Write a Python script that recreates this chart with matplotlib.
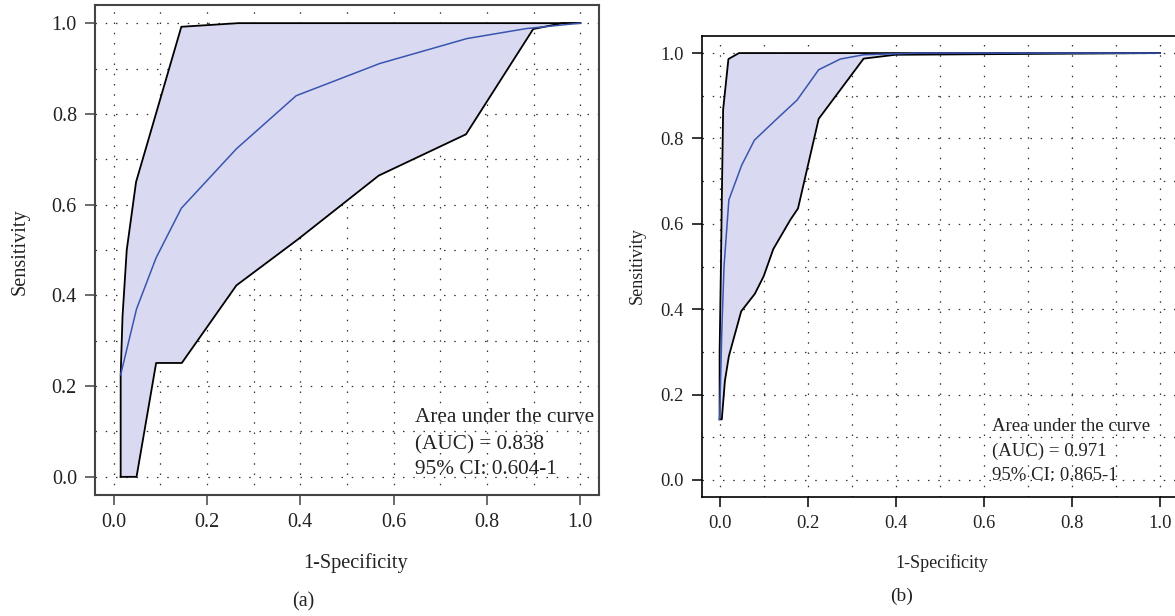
import matplotlib
matplotlib.use("Agg")
import matplotlib.pyplot as plt
import numpy as np

plt.rcParams['font.family'] = ['Liberation Serif', 'DejaVu Serif']

# ---- Panel (a) data ----
a_upper_x = [0.015, 0.015, 0.019, 0.028, 0.048, 0.145, 0.267, 1.0]
a_upper_y = [0.0, 0.225, 0.354, 0.50, 0.650, 0.992, 1.0, 1.0]
a_lower_x = [0.015, 0.049, 0.091, 0.146, 0.263, 0.393, 0.568, 0.755, 0.899, 0.962, 1.0]
a_lower_y = [0.0, 0.0, 0.251, 0.251, 0.422, 0.522, 0.664, 0.755, 0.987, 1.0, 1.0]
a_roc_x = [0.015, 0.049, 0.091, 0.145, 0.263, 0.391, 0.570, 0.757, 0.884, 1.0]
a_roc_y = [0.225, 0.370, 0.483, 0.592, 0.723, 0.840, 0.911, 0.966, 0.988, 1.0]
a_text = ["Area under the curve", "(AUC) = 0.838", "95% CI: 0.604-1"]

# ---- Panel (b) data ----
b_upper_x = [0.0, 0.0, 0.003, 0.005, 0.008, 0.020, 0.044, 1.0]
b_upper_y = [0.142, 0.30, 0.50, 0.657, 0.868, 0.986, 1.0, 1.0]
b_lower_x = [0.0, 0.005, 0.012, 0.021, 0.049, 0.080, 0.100, 0.122, 0.161, 0.178, 0.225, 0.327, 0.399, 1.0]
b_lower_y = [0.142, 0.142, 0.232, 0.290, 0.395, 0.436, 0.477, 0.541, 0.610, 0.636, 0.846, 0.987, 0.996, 1.0]
b_roc_x = [0.0, 0.005, 0.010, 0.021, 0.050, 0.079, 0.127, 0.176, 0.225, 0.274, 0.327, 0.45, 1.0]
b_roc_y = [0.142, 0.35, 0.50, 0.656, 0.737, 0.796, 0.843, 0.890, 0.961, 0.986, 0.996, 1.0, 1.0]
b_text = ["Area under the curve", "(AUC) = 0.971", "95% CI: 0.865-1"]

ticks = [0.0, 0.2, 0.4, 0.6, 0.8, 1.0]
tick_labels = ["0.0", "0.2", "0.4", "0.6", "0.8", "1.0"]
grid_vals = np.round(np.arange(0, 1.01, 0.1), 2)

FILL = '#d9daf1'
BLUE = '#3a55b0'
TXT = '#222222'

W, H = 1175, 616
fig = plt.figure(figsize=(W / 100, H / 100), dpi=100)


def px_axes(l, r, t, b):
    return fig.add_axes([l / W, (H - b) / H, (r - l) / W, (b - t) / H])


def draw_panel(ax, ux, uy, lx, ly, rx, ry, texts, txy, tick_fs, txt_fs, spine_col, spine_lw):
    ax.set_xlim(-0.04, 1.04)
    ax.set_ylim(-0.04, 1.04)
    for g in grid_vals:
        ax.axhline(g, color='#333333', lw=0.9, ls=(0, (1.2, 7)), zorder=0.5)
        ax.axvline(g, color='#333333', lw=0.9, ls=(0, (1.2, 7)), zorder=0.5)
    px = list(ux) + list(lx)[::-1]
    py = list(uy) + list(ly)[::-1]
    ax.fill(px, py, color=FILL, lw=0, zorder=1)
    ax.plot(ux, uy, color='black', lw=1.3, zorder=3)
    ax.plot(lx, ly, color='black', lw=1.3, zorder=3)
    ax.plot(rx, ry, color=BLUE, lw=1.1, zorder=4)
    ax.set_xticks(ticks)
    ax.set_xticklabels(tick_labels)
    ax.set_yticks(ticks)
    ax.set_yticklabels(tick_labels)
    ax.tick_params(axis='both', length=7, width=1.1, color=spine_col,
                   labelsize=tick_fs, labelcolor=TXT, pad=6)
    for s in ax.spines.values():
        s.set_color(spine_col)
        s.set_linewidth(spine_lw)
    x0, ys = txy
    for t, yy in zip(texts, ys):
        ax.text(x0, yy, t, fontsize=txt_fs, color=TXT, ha='left', va='baseline', zorder=5)


ax1 = px_axes(95, 599, 5, 495)
draw_panel(ax1, a_upper_x, a_upper_y, a_lower_x, a_lower_y, a_roc_x, a_roc_y,
           a_text, (0.645, [0.120, 0.061, 0.006]), 14.5, 15.3, '#444444', 1.5)

ax2 = px_axes(702, 1177.6, 36, 497)
draw_panel(ax2, b_upper_x, b_upper_y, b_lower_x, b_lower_y, b_roc_x, b_roc_y,
           b_text, (0.618, [0.115, 0.056, -0.001]), 13.3, 13.5, 'black', 1.2)

# Axis labels and panel tags placed in figure pixels
def ftext(x, y, s, **kw):
    fig.text(x / W, (H - y) / H, s, color=TXT, ha='center', va='center', **kw)

ftext(356, 563, "1-Specificity", fontsize=14.6)
ftext(20, 252, "Sensitivity", fontsize=14.6, rotation=90)
ftext(303, 602, "(a)", fontsize=14.5)

ftext(942, 563, "1-Specificity", fontsize=13)
ftext(637, 266, "Sensitivity", fontsize=13, rotation=90)
ftext(902, 596, "(b)", fontsize=14)

fig.savefig("out.png", dpi=100)
